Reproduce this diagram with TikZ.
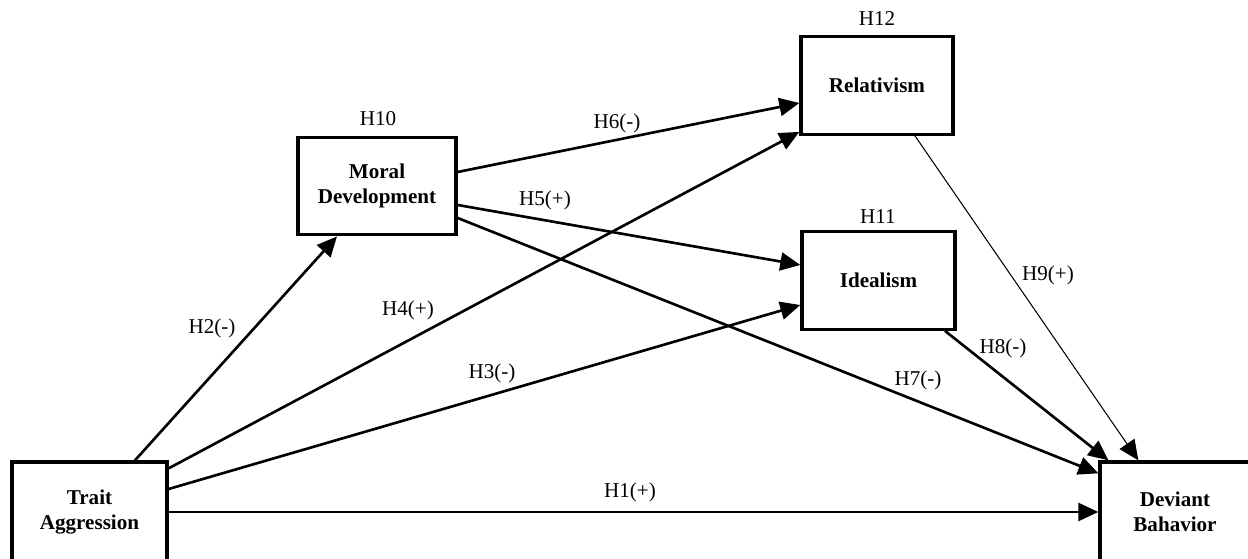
\documentclass[tikz,border=0pt]{standalone}
\usepackage{fontspec}
\setmainfont{Liberation Serif}
\usepackage{tikz}
\usetikzlibrary{arrows.meta, positioning}
\tikzset{
    var/.style  ={draw=black, line width=1.9pt, fill=white,
                  minimum width=3.1cm, minimum height=1.95cm, inner sep=2pt,
                  align=center, font=\fontsize{12}{14.5}\selectfont\bfseries},
    effect/.style ={-{Triangle[length=0.4cm, width=0.36cm]}, line width=1.5pt},
    thineffect/.style={effect, line width=0.6pt},
    hyp/.style  ={font=\fontsize{12}{13}\selectfont, inner sep=1pt}
}

\begin{document}
\begin{tikzpicture}[x=1cm, y=1cm]
  \useasboundingbox (0,0) rectangle (24.96,11.18);

  % constructs
  \node[var, minimum height=2.0cm] (ta) at ( 1.79, 0.94) {Trait\\Aggression};
  \node[var, minimum width=3.16cm] (md) at ( 7.54, 7.46) {Moral\\Development};
  \node[var, minimum width=3.04cm] (rl) at (17.54, 9.47) {Relativism};
  \node[var, minimum width=3.06cm] (id) at (17.57, 5.57) {Idealism};
  \node[var, minimum width=3.0cm, minimum height=2.0cm] (dv) at (23.50, 0.94) {Deviant\\Bahavior};

  % moderation labels
  \node[hyp] (h10) at ( 7.56, 8.80) {H10};
  \node[hyp] (h11) at (17.56, 6.84) {H11};
  \node[hyp] (h12) at (17.54,10.80) {H12};

  % paths out of trait aggression
  \draw[effect] (ta.east) -- (dv.west);
  \draw[effect] ([xshift=0.91cm]ta.north) -- ([xshift=-0.80cm]md.south);
  \draw[effect] ([yshift=0.46cm]ta.east) -- ([yshift=-0.49cm]id.west);
  \draw[effect] ([yshift=-0.16cm]ta.north east) -- ([yshift=0.08cm]rl.south west);

  % paths out of moral development
  \draw[effect] ([yshift=-0.38cm]md.east) -- ([yshift=0.31cm]id.west);
  \draw[effect] ([yshift=0.28cm]md.east) -- ([yshift=-0.35cm]rl.west);
  \draw[effect] ([yshift=-0.64cm]md.east) -- ([yshift=-0.26cm]dv.north west);

  % paths into deviant behavior
  \draw[effect] ([xshift=1.33cm]id.south) -- ([xshift=0.20cm]dv.north west);
  \draw[thineffect] ([xshift=0.76cm]rl.south) -- ([xshift=0.80cm]dv.north west);

  % hypothesis labels
  \node[hyp] (h1) at (12.60, 1.34) {H1(+)};
  \node[hyp] (h2) at ( 4.24, 4.62) {H2(-)};
  \node[hyp] (h3) at ( 9.84, 3.72) {H3(-)};
  \node[hyp] (h4) at ( 8.16, 4.98) {H4(+)};
  \node[hyp] (h5) at (10.90, 7.18) {H5(+)};
  \node[hyp] (h6) at (12.34, 8.72) {H6(-)};
  \node[hyp] (h7) at (18.36, 3.58) {H7(-)};
  \node[hyp] (h8) at (20.06, 4.22) {H8(-)};
  \node[hyp] (h9) at (20.96, 5.68) {H9(+)};
\end{tikzpicture}
\end{document}
